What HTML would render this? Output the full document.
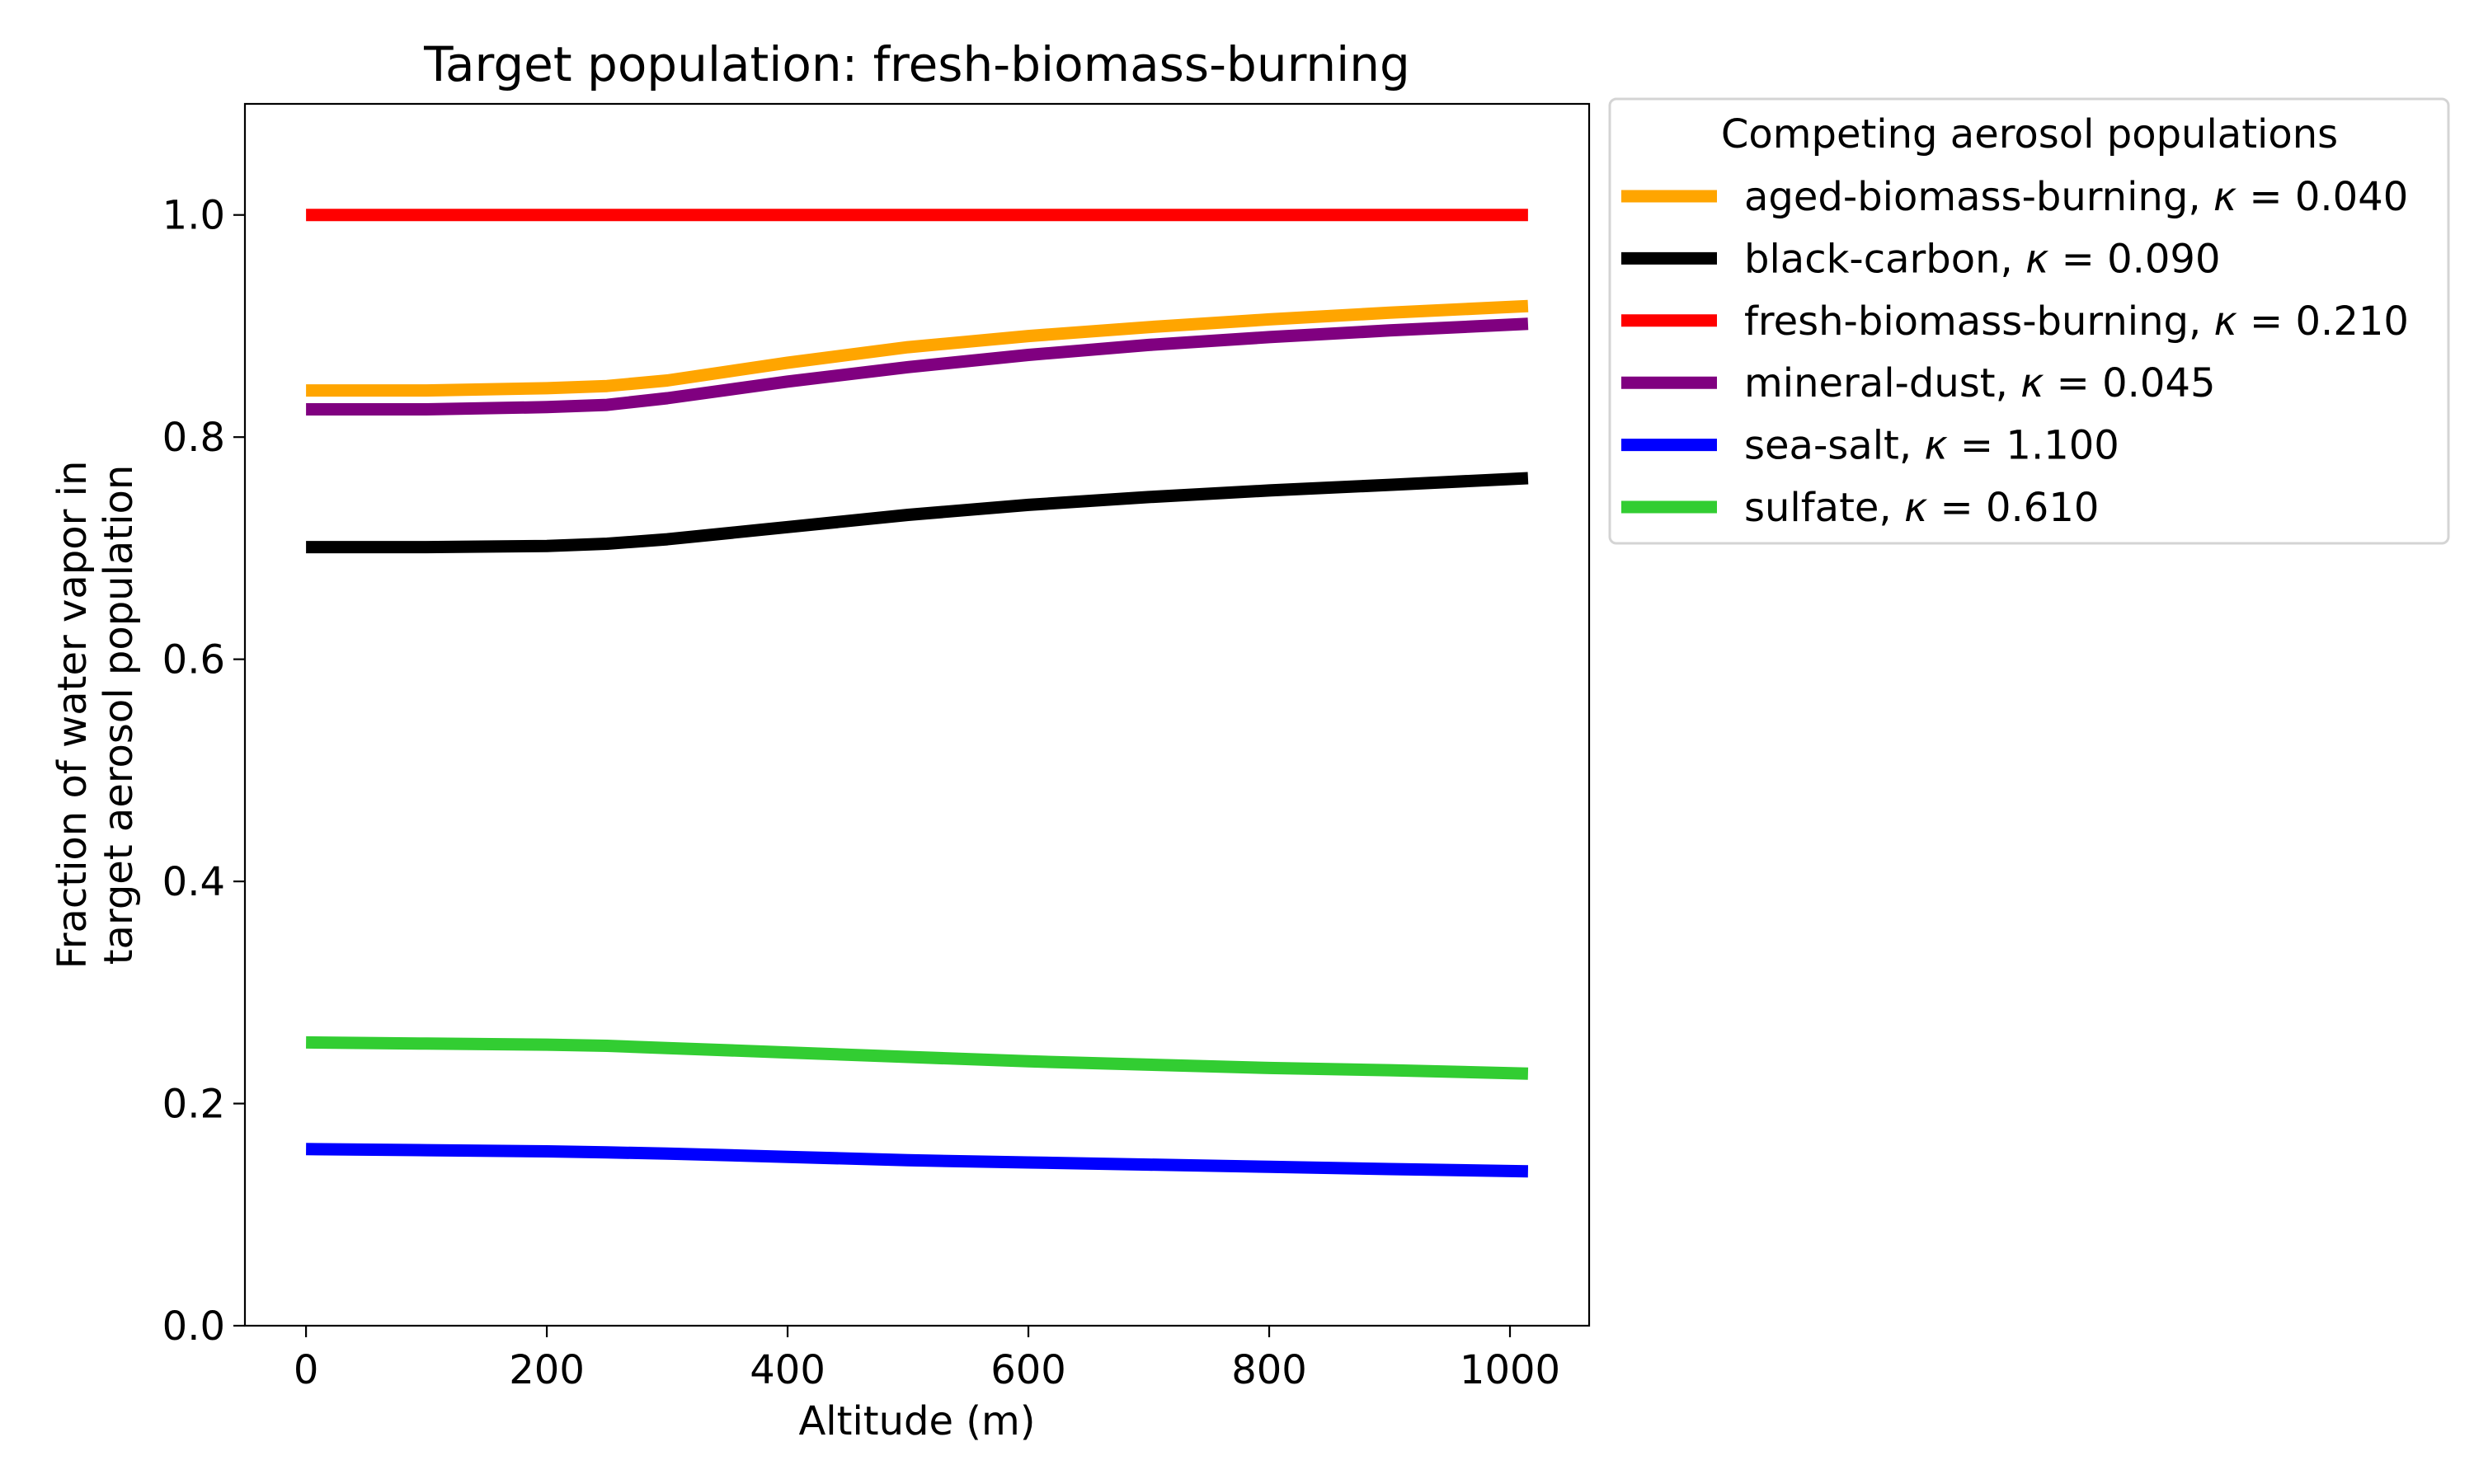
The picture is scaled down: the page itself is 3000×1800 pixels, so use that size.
<!DOCTYPE html>
<html><head><meta charset="utf-8"><style>
html,body{margin:0;padding:0;background:#fff;}
svg{display:block;font-family:"DejaVu Sans","Liberation Sans",sans-serif;}
</style></head><body>
<svg id="chart" width="3000" height="1800" viewBox="0 0 3000 1800">
<rect x="0" y="0" width="3000" height="1800" fill="#fff"/>
<g id="plot"></g>
<g id="axes"></g>
<text x="1112" y="98" font-size="58" text-anchor="middle">Target population: fresh-biomass-burning</text>
<text x="1112" y="1740" font-size="48" text-anchor="middle">Altitude (m)</text>
<text transform="translate(104,867) rotate(-90)" font-size="48" text-anchor="middle">Fraction of water vapor in</text>
<text transform="translate(160,867) rotate(-90)" font-size="48" text-anchor="middle">target aerosol population</text>
<g id="legend">
<rect x="1952" y="120" width="1017" height="539" rx="8" fill="#fff" stroke="#d4d4d4" stroke-width="3"/>
<text x="2461" y="179" font-size="48" text-anchor="middle">Competing aerosol populations</text>
</g>
</svg>
<script>
const xs = [0, 100, 200, 250, 300, 400, 500, 600, 700, 800, 900, 1015];
const seriesNames = ["aged-biomass-burning", "black-carbon", "fresh-biomass-burning", "mineral-dust", "sea-salt", "sulfate"];
const kappas = ["0.040", "0.090", "0.210", "0.045", "1.100", "0.610"];
const colors = ["#ffa500", "#000000", "#ff0000", "#800080", "#0000ff", "#32cd32"];
const agedValues = [0.842, 0.842, 0.844, 0.846, 0.851, 0.867, 0.881, 0.891, 0.899, 0.906, 0.912, 0.918];
const blackValues = [0.701, 0.701, 0.702, 0.704, 0.708, 0.719, 0.730, 0.739, 0.746, 0.752, 0.757, 0.763];
const freshValues = [1.0, 1.0, 1.0, 1.0, 1.0, 1.0, 1.0, 1.0, 1.0, 1.0, 1.0, 1.0];
const dustValues = [0.825, 0.825, 0.827, 0.829, 0.835, 0.850, 0.863, 0.874, 0.883, 0.890, 0.896, 0.902];
const saltValues = [0.159, 0.158, 0.157, 0.156, 0.155, 0.152, 0.149, 0.147, 0.145, 0.143, 0.141, 0.139];
const sulfateValues = [0.255, 0.254, 0.253, 0.252, 0.250, 0.246, 0.242, 0.238, 0.235, 0.232, 0.230, 0.227];
const xTicks = [0, 200, 400, 600, 800, 1000];
const yTicks = [0.0, 0.2, 0.4, 0.6, 0.8, 1.0];
const yTickLabels = ["0.0", "0.2", "0.4", "0.6", "0.8", "1.0"];

const NS = "http://www.w3.org/2000/svg";
const L = 297, R = 1927, T = 126, B = 1608;
const xMin = -50.75, xMax = 1065.75, yMin = 0, yMax = 1.1;
function sx(v){ return L + (v - xMin) / (xMax - xMin) * (R - L); }
function sy(v){ return B - (v - yMin) / (yMax - yMin) * (B - T); }
function mk(tag, attrs, parent){ const e = document.createElementNS(NS, tag); for (const k in attrs) e.setAttribute(k, attrs[k]); parent.appendChild(e); return e; }

const allValues = [agedValues, blackValues, freshValues, dustValues, saltValues, sulfateValues];
const plot = document.getElementById('plot');
allValues.forEach((vals, i) => {
  const pts = xs.map((x, j) => sx(x).toFixed(1) + "," + sy(vals[j]).toFixed(1)).join(" ");
  const halo = mk('polyline', {points: pts, fill: 'none', stroke: '#fff', 'stroke-width': 19, 'stroke-linejoin': 'round'}, plot);
  
  
  const ln = mk('polyline', {points: pts, fill: 'none', stroke: colors[i], 'stroke-width': 15, 'stroke-linejoin': 'round'}, plot);
  
  
});

const axes = document.getElementById('axes');
const frame = mk('rect', {x: L, y: T, width: R - L, height: B - T, fill: 'none', stroke: '#000', 'stroke-width': 2.2}, axes);


xTicks.forEach(v => {
  const t = mk('line', {x1: sx(v), x2: sx(v), y1: B, y2: B + 14, stroke: '#000', 'stroke-width': 2.2}, axes);
  
  
  const lb = mk('text', {x: sx(v), y: B + 70, 'font-size': 48, 'text-anchor': 'middle'}, axes);
  lb.textContent = String(v);
  
  
});
yTicks.forEach((v, i) => {
  const t = mk('line', {x1: L - 14, x2: L, y1: sy(v), y2: sy(v), stroke: '#000', 'stroke-width': 2.2}, axes);
  
  
  const lb = mk('text', {x: L - 24, y: sy(v) + 17, 'font-size': 48, 'text-anchor': 'end'}, axes);
  lb.textContent = yTickLabels[i];
  
  
});

const legend = document.getElementById('legend');
seriesNames.forEach((n, i) => {
  const y = 238 + i * 75.4;
  const h = mk('line', {x1: 1966, x2: 2082, y1: y, y2: y, stroke: colors[i], 'stroke-width': 15}, legend);
  
  
  const tx = mk('text', {x: 2115, y: y + 17, 'font-size': 48}, legend);
  
  
  const a = mk('tspan', {}, tx); a.textContent = n + ", ";
  const k = mk('tspan', {'font-style': 'italic'}, tx); k.textContent = "κ";
  const b = mk('tspan', {}, tx); b.textContent = " = " + kappas[i];
});
</script>
</body></html>
